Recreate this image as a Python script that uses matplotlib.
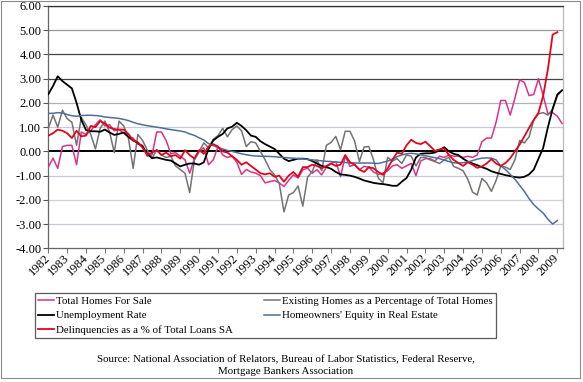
import numpy as np
import matplotlib
matplotlib.use("Agg")
import matplotlib.pyplot as plt
from matplotlib.patches import Rectangle
import matplotlib.transforms as mtransforms

plt.rcParams['font.family'] = ['Liberation Serif', 'DejaVu Serif']
plt.rcParams['axes.unicode_minus'] = False

years = list(range(1982, 2010))

total_homes_for_sale = [
    -0.65, -0.28, -0.7, 0.2, 0.25, 0.25, -0.55, 0.8, 0.7, 0.85,
    1.1, 1.3, 1.05, 1.1, 0.85, 0.9, 0.75, 0.6, 0.55, 0.3,
    0.25, -0.2, -0.15, 0.8, 0.8, 0.45, -0.1, -0.05, -0.2, -0.35,
    -0.9, -0.3, 0.0, 0.15, -0.55, -0.35, 0.2, -0.15, -0.25, -0.2,
    -0.45, -0.95, -0.75, -0.85, -0.9, -1.0, -1.3, -1.25, -1.2, -1.3,
    -1.45, -1.2, -0.97, -1.1, -0.76, -0.69, -0.9, -0.76, -0.97, -0.65,
    -0.5, -0.42, -1.04, -0.2, -0.62, -0.55, -0.76, -0.62, -0.65, -0.85,
    -0.95, -0.9, -0.8, -0.6, -0.55, -0.7, -0.6, -0.5, -1.0, -0.4,
    -0.3, -0.3, -0.4, -0.2, -0.25, -0.15, -0.2, -0.2, -0.25, -0.2,
    -0.25, -0.15, 0.4, 0.55, 0.55, 1.2, 2.1, 2.1, 1.5, 2.2,
    2.95, 2.85, 2.3, 2.35, 3.0, 2.3, 1.55, 1.6, 1.45, 1.15]

existing_homes_pct = [
    0.95, 1.5, 1.0, 1.7, 1.35, 1.2, 0.25, 1.4, 1.1, 0.7,
    0.1, 0.95, 1.25, 0.8, -0.05, 1.25, 1.05, 0.55, -0.7, 0.7,
    0.45, 0.05, -0.3, 0.07, -0.15, -0.25, -0.2, -0.6, -0.75, -0.9,
    -1.7, -0.35, 0.0, 0.35, 0.15, 0.5, 0.65, 0.95, 0.6, 0.9,
    1.05, 0.85, 0.2, 0.4, 0.35, 0.0, -0.35, -0.75, -0.97, -1.32,
    -2.5, -1.8, -1.7, -1.43, -2.26, -1.07, -0.83, -0.35, -0.8, 0.25,
    0.37, 0.62, 0.07, 0.83, 0.83, 0.42, -0.42, 0.18, 0.2, -0.35,
    -1.1, -1.3, -0.25, -0.4, -0.3, -0.5, -0.15, -0.2, -0.6, -0.25,
    -0.25, -0.35, -0.42, -0.5, -0.35, -0.25, -0.62, -0.7, -0.8, -1.15,
    -1.68, -1.8, -1.12, -1.3, -1.65, -1.2, -0.6, -0.65, -0.75, -0.35,
    0.45, 0.35, 0.6, 1.3, 1.55, 1.6, 1.5, 1.75, 2.3, 2.52]

unemployment_rate = [
    2.36, 2.7, 3.1, 2.9, 2.75, 2.6, 2.0, 1.3, 0.88, 0.83,
    0.83, 0.81, 0.9, 0.78, 0.68, 0.72, 0.78, 0.6, 0.45, 0.35,
    0.2, -0.1, -0.28, -0.25, -0.3, -0.35, -0.38, -0.5, -0.62, -0.55,
    -0.5, -0.5, -0.55, -0.45, 0.1, 0.45, 0.6, 0.72, 0.95, 1.02,
    1.18, 1.05, 0.87, 0.65, 0.6, 0.42, 0.3, 0.2, 0.1, -0.1,
    -0.3, -0.4, -0.35, -0.3, -0.3, -0.32, -0.4, -0.5, -0.6, -0.65,
    -0.72, -0.85, -0.95, -0.97, -1.0, -1.05, -1.12, -1.2, -1.25, -1.3,
    -1.33, -1.35, -1.38, -1.42, -1.42, -1.25, -1.1, -0.75, -0.25, -0.1,
    -0.08, -0.08, -0.05, 0.05, 0.17, 0.0, -0.1, -0.15, -0.3, -0.42,
    -0.5, -0.57, -0.65, -0.72, -0.82, -0.88, -0.93, -0.98, -1.02, -1.06,
    -1.08, -1.05, -0.95, -0.75, -0.3, 0.15, 1.0, 1.75, 2.35, 2.52]

homeowners_equity = [
    1.57, 1.57, 1.6, 1.58, 1.52, 1.47, 1.45, 1.48, 1.49, 1.49,
    1.48, 1.46, 1.42, 1.4, 1.38, 1.36, 1.32, 1.27, 1.2, 1.14,
    1.1, 1.06, 1.03, 1.0, 0.97, 0.93, 0.9, 0.87, 0.84, 0.8,
    0.72, 0.66, 0.56, 0.47, 0.32, 0.24, 0.16, 0.1, 0.04, 0.0,
    -0.05, -0.1, -0.14, -0.17, -0.19, -0.2, -0.2, -0.21, -0.22, -0.24,
    -0.25, -0.27, -0.28, -0.3, -0.31, -0.33, -0.35, -0.37, -0.39, -0.41,
    -0.42, -0.44, -0.45, -0.46, -0.47, -0.48, -0.48, -0.48, -0.48, -0.49,
    -0.5, -0.45, -0.4, -0.32, -0.22, -0.15, -0.1, -0.08, -0.1, -0.14,
    -0.18, -0.22, -0.26, -0.3, -0.36, -0.42, -0.47, -0.48, -0.47, -0.44,
    -0.38, -0.32, -0.28, -0.27, -0.28, -0.35, -0.6, -0.75, -0.95, -1.15,
    -1.4, -1.65, -1.95, -2.2, -2.38, -2.55, -2.8, -3.0, -2.85, np.nan]

delinquencies = [
    0.65, 0.75, 0.9, 0.85, 0.75, 0.55, 0.85, 0.62, 0.65, 1.05,
    1.0, 1.25, 1.15, 0.98, 0.92, 0.9, 0.9, 0.72, 0.45, 0.38,
    0.15, -0.15, -0.05, 0.05, -0.15, -0.05, -0.2, -0.15, -0.3, 0.05,
    -0.15, -0.3, 0.05, -0.1, 0.2, 0.3, 0.2, 0.0, -0.05, -0.2,
    -0.35, -0.55, -0.45, -0.6, -0.75, -0.9, -0.95, -0.9, -1.05, -1.0,
    -1.25, -1.0, -0.85, -1.05, -0.65, -0.65, -0.55, -0.6, -0.7, -0.6,
    -0.5, -0.6, -0.55, -0.15, -0.45, -0.55, -0.75, -0.85, -0.65, -0.7,
    -0.85, -0.97, -0.7, -0.35, -0.05, -0.1, 0.25, 0.48, 0.35, 0.3,
    0.4, 0.22, 0.02, 0.08, 0.12, -0.15, -0.35, -0.48, -0.6, -0.45,
    -0.55, -0.68, -0.62, -0.5, -0.32, -0.5, -0.6, -0.48, -0.28, 0.0,
    0.28, 0.62, 0.97, 1.3, 1.6, 2.3, 3.4, 4.82, 4.92, np.nan]

labels = ["Total Homes For Sale",
          "Existing Homes as a Percentage of Total Homes",
          "Unemployment Rate",
          "Homeowners' Equity in Real Estate",
          "Delinquencies as a % of Total Loans SA"]
colors = ["#d8338c", "#737373", "#000000", "#4d6f98", "#e2061c"]
widths = [1.1, 1.1, 1.3, 1.1, 1.3]
series = [total_homes_for_sale, existing_homes_pct, unemployment_rate,
          homeowners_equity, delinquencies]

W, H = 583, 382
fig = plt.figure(figsize=(W / 100, H / 100), dpi=100)
ax = fig.add_axes([48.3 / W, 1 - 248.3 / H, (563 - 48.3) / W, (248.3 - 6) / H])

x = np.arange(len(total_homes_for_sale))

grid_vals = [6, 5, 4, 3, 2, 1, -1, -2, -3]
grid_cols = ["#333333", "#999999", "#444444", "#444444", "#aeb2b8",
             "#c4ccd8", "#c4ccd8", "#ccd4e0", "#c4ccd8"]
for gv, gc in zip(grid_vals, grid_cols):
    ax.axhline(gv, color=gc, lw=0.9, zorder=1)
ax.axhline(0, color="black", lw=1.4, zorder=2)

handles = []
for s, c, w, lab in zip(series, colors, widths, labels):
    ln, = ax.plot(x, np.array(s, dtype=float), color=c, lw=w, label=lab, zorder=3)
    handles.append(ln)

ax.set_xlim(0, 109.2)
ax.set_ylim(-4, 6)
ax.set_yticks(np.arange(-4, 7, 1))
ax.set_yticklabels([f"{v:.2f}" for v in np.arange(-4, 7, 1)], fontsize=9)
ax.set_xticks(np.arange(0, len(years) * 4, 4))
ax.set_xticklabels([str(y) for y in years], fontsize=9, rotation=45,
                   ha="right", va="center", rotation_mode="anchor")
offset = mtransforms.ScaledTranslation(6 / 100, -12 / 100, fig.dpi_scale_trans)
for t in ax.get_xticklabels():
    t.set_transform(t.get_transform() + offset)

ax.tick_params(axis="y", direction="out", length=3.5, width=0.8, color="#555555", pad=1.5)
ax.tick_params(axis="x", direction="out", length=3.5, width=0.8, color="#777777", pad=2)
for side in ["left", "bottom"]:
    ax.spines[side].set_color("#666666")
    ax.spines[side].set_linewidth(0.9)
ax.spines["right"].set_color("#b8b8b8")
ax.spines["right"].set_linewidth(0.9)
ax.spines["top"].set_color("#333333")
ax.spines["top"].set_linewidth(0.9)

order = [0, 2, 4, 1, 3]
leg = fig.legend([handles[i] for i in order], [labels[i] for i in order],
                 loc="upper left", bbox_to_anchor=(34.7 / W, 1 - 293 / H),
                 ncol=2, frameon=True, fancybox=False, fontsize=7.8,
                 handlelength=1.5, handletextpad=0.15, columnspacing=2.9,
                 borderpad=0.3, labelspacing=0.45, borderaxespad=0)
leg.get_frame().set_edgecolor("#333333")
leg.get_frame().set_linewidth(0.9)

fig.text(286 / W, 1 - 360 / H,
         "Source: National Association of Relators, Bureau of Labor Statistics, Federal Reserve,",
         ha="center", va="center", fontsize=7.8)
fig.text(286 / W, 1 - 371 / H, "Mortgage Bankers Association",
         ha="center", va="center", fontsize=7.8)

fig.add_artist(Rectangle((1 / W, 4 / H), 579 / W, 377 / H, transform=fig.transFigure,
                         fill=False, edgecolor="#8a8a8a", lw=0.8))

fig.savefig("out.png", dpi=100)
